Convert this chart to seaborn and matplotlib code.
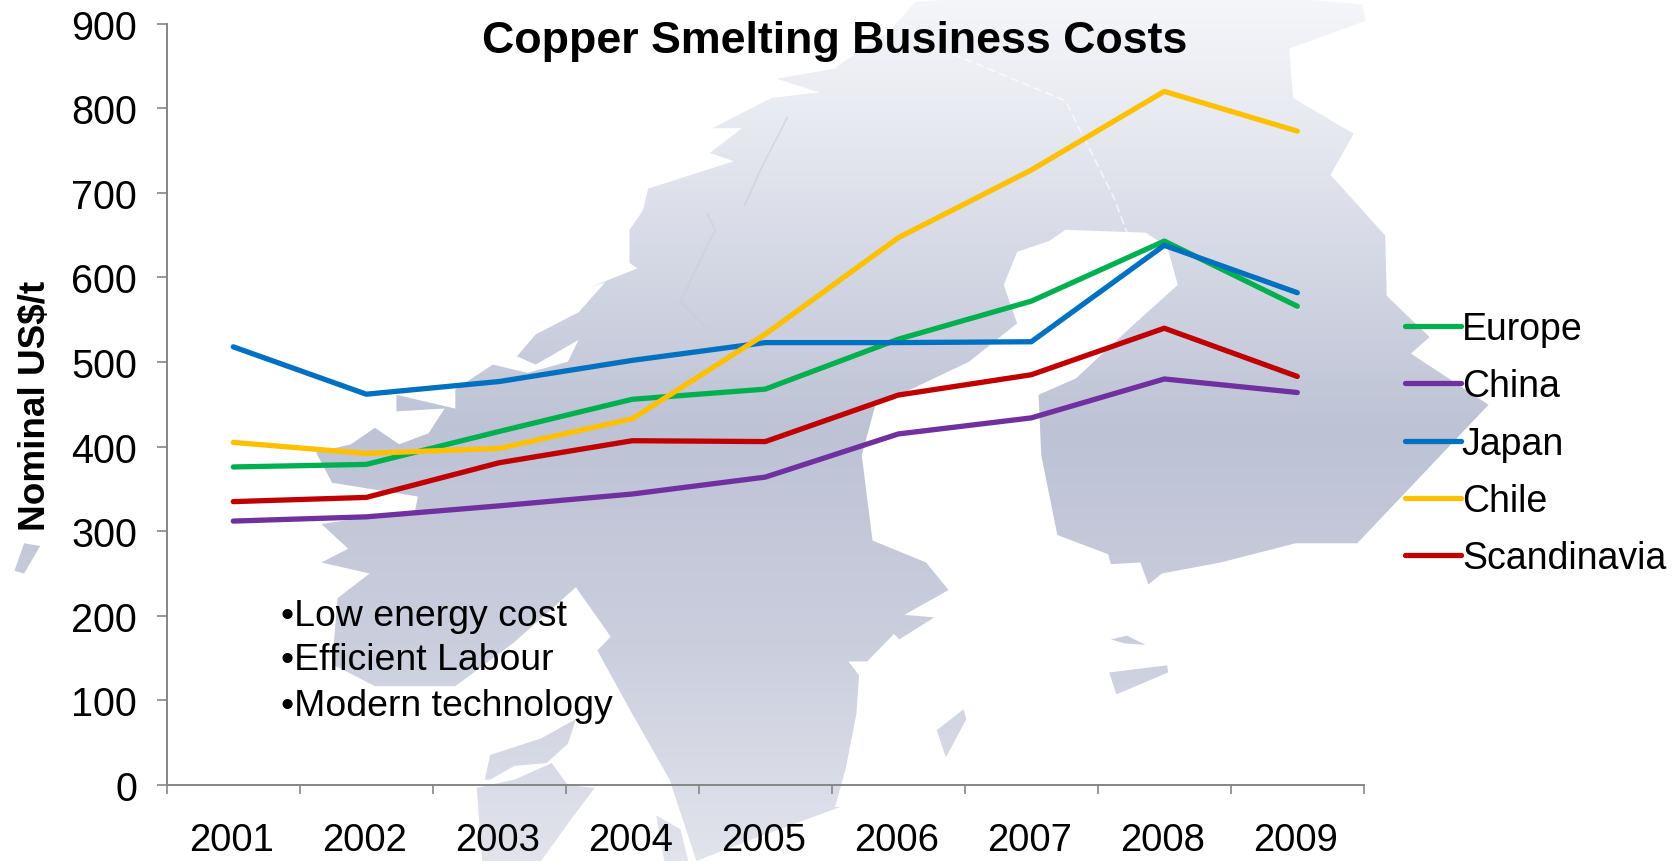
import numpy as np
import pandas as pd
import matplotlib
matplotlib.use("Agg")
import matplotlib.pyplot as plt
import seaborn as sns
from matplotlib.colors import LinearSegmentedColormap
from matplotlib.path import Path
from matplotlib.patches import PathPatch
from matplotlib.ticker import FixedLocator, NullFormatter
from matplotlib.transforms import ScaledTranslation

# values
years = ['2001', '2002', '2003', '2004', '2005', '2006', '2007', '2008', '2009']
europe = [376, 379, 418, 456, 468, 527, 572, 643, 566]
china = [312, 317, 330, 344, 364, 415, 434, 480, 464]
japan = [518, 462, 477, 502, 523, 523, 524, 638, 582]
chile = [405, 392, 398, 433, 533, 647, 727, 820, 773]
scandinavia = [335, 340, 381, 407, 406, 461, 485, 540, 483]

series_names = ['Europe', 'China', 'Japan', 'Chile', 'Scandinavia']
series_colors = ['#00B050', '#7030A0', '#0070C0', '#FFC000', '#C00000']
bullets = ['•Low energy cost', '•Efficient Labour', '•Modern technology']

# map outline behind the chart, traced in pixels of the two halves of the picture
west_half = [(1568, 125), (1450, 145), (1530, 170), (1440, 180), (1330, 235), (1385, 235), (1325, 280),
             (1370, 295), (1210, 345), (1200, 385), (1175, 420), (1175, 480), (1190, 490), (1100, 525),
             (1130, 515), (1080, 570), (1000, 610), (965, 650), (1000, 665), (1080, 620), (1060, 660),
             (985, 680), (920, 665), (850, 710), (850, 745), (740, 720), (740, 750), (830, 745),
             (800, 790), (745, 810), (700, 780), (655, 810), (590, 825), (620, 880), (780, 905),
             (775, 930), (600, 955), (650, 1000), (600, 1025), (690, 1045), (630, 1090), (620, 1210),
             (700, 1250), (850, 1250), (960, 1170), (1075, 1070), (1140, 1160), (1115, 1185),
             (1180, 1300), (1250, 1420), (1300, 1568), (1400, 1530), (1568, 1470)]
east_half = [(0, 1470), (20, 1400), (40, 1300), (45, 1230), (25, 1205), (60, 1205), (110, 1155), (120, 1165),
             (185, 1125), (130, 1120), (212, 1075), (170, 1025), (70, 985), (50, 830), (75, 740),
             (120, 720), (250, 660), (340, 590), (315, 520), (340, 460), (400, 440), (430, 420),
             (580, 425), (620, 450), (640, 520), (560, 590), (450, 690), (380, 720), (385, 830),
             (415, 975), (510, 1010), (515, 1028), (570, 1025), (585, 1065), (610, 1045), (720, 1025),
             (860, 990), (975, 990), (1220, 738), (1075, 645), (1110, 615), (1030, 540), (1027, 430),
             (925, 320), (968, 245), (855, 180), (848, 90), (990, 40), (985, 10), (870, 0), (230, 0),
             (150, 5), (100, 60), (0, 125)]
west_islands = [[(27, 1040), (45, 990), (75, 995), (45, 1045)],
                [(905, 1420), (915, 1375), (1010, 1345), (1075, 1310), (1060, 1355), (1020, 1390),
                 (960, 1395), (915, 1420)],
                [(890, 1435), (960, 1420), (1030, 1390), (1060, 1430), (1110, 1435), (1060, 1500),
                 (1010, 1568), (900, 1568)],
                [(1225, 1485), (1270, 1510), (1285, 1568), (1240, 1568)]]
east_islands = [[(240, 1292), (190, 1330), (207, 1380), (245, 1310)],
                [(515, 1165), (545, 1158), (580, 1175), (540, 1172)],
                [(512, 1225), (620, 1212), (622, 1225), (525, 1265)]]
# faint border lines on the map
west_borders = [[(1470, 215), (1420, 310), (1390, 375)],
                [(1320, 390), (1335, 420), (1270, 550), (1315, 595)]]
east_borders = [[(220, 100), (430, 185), (520, 360), (545, 425)]]


def to_pixels(points, offset):
    return [(offset + x / 1.8667, y / 1.819) for x, y in points]


def ring(points):
    return Path(points + [points[0]], closed=True)


rings = [ring(to_pixels(west_half, 0) + to_pixels(east_half, 835))]
rings += [ring(to_pixels(p, 0)) for p in west_islands]
rings += [ring(to_pixels(p, 835)) for p in east_islands]
map_path = Path.make_compound_path(*rings)

df = pd.DataFrame({'year': years, 'Europe': europe, 'China': china, 'Japan': japan,
                   'Chile': chile, 'Scandinavia': scandinavia})
df = df.melt(id_vars='year', var_name='region', value_name='cost')

sns.set_theme(style="white")
plt.rcParams['font.family'] = ['Liberation Sans', 'DejaVu Sans']

fig = plt.figure(figsize=(16.75, 8.62), dpi=100)

# map with vertical gradient
bg = fig.add_axes([0, 0, 1, 1], zorder=0)
bg.axis('off')
cmap = LinearSegmentedColormap.from_list('map', [(0, '#F5F6F9'), (0.16, '#E6E8F0'), (0.5, '#BDC2D5'),
                                                 (0.75, '#CBCEDD'), (1, '#E2E4EC')])
grad = np.linspace(0, 1, 256).reshape(-1, 1)
im = bg.imshow(grad, cmap=cmap, extent=(0, 1675, 862, 0), aspect='auto', vmin=0, vmax=1)
im.set_clip_path(PathPatch(map_path, transform=bg.transData))
for b in west_borders:
    xs, ys = zip(*to_pixels(b, 0))
    bg.plot(xs, ys, color='#C9CCDA', lw=1.2, alpha=0.6)
for b in east_borders:
    xs, ys = zip(*to_pixels(b, 835))
    bg.plot(xs, ys, color='white', lw=1, ls=(0, (6, 3)), alpha=0.8)
bg.set_xlim(0, 1675)
bg.set_ylim(862, 0)

# chart
ax = fig.add_axes([166.8 / 1675, 1 - 786 / 862, (1363.8 - 166.8) / 1675, (786 - 24.7) / 862], zorder=1)
ax.patch.set_alpha(0)
sns.lineplot(data=df, x='year', y='cost', hue='region', hue_order=series_names,
             palette=series_colors, linewidth=3.8, ax=ax, sort=False)
ax.set_xlim(-0.5, 8.5)
ax.set_ylim(0, 900)
ax.set_yticks(range(0, 1000, 100))
ax.xaxis.set_minor_locator(FixedLocator(np.arange(-0.5, 9)))
ax.xaxis.set_minor_formatter(NullFormatter())
ax.tick_params(axis='x', which='major', length=0, labelsize=27.5, pad=27, labelcolor='black')
ax.tick_params(axis='x', which='minor', bottom=True, length=6.5, width=1.2, color='#868686')
ax.tick_params(axis='y', which='major', left=True, length=7.5, width=1.2, color='#868686',
               labelsize=28.5, pad=14, labelcolor='black')
for side in ['top', 'right']:
    ax.spines[side].set_visible(False)
for side in ['left', 'bottom']:
    ax.spines[side].set_color('#868686')
    ax.spines[side].set_linewidth(1.4)
ax.set_xlabel('')
ax.set_ylabel('')

# year labels sit a little left of the category centres
shift = ScaledTranslation(-1.2 / 72, 0, fig.dpi_scale_trans)
for label in ax.get_xticklabels():
    label.set_transform(label.get_transform() + shift)

fig.text(36 / 1675, 1 - 406 / 862, 'Nominal US$/t', rotation=90, fontsize=26.6, fontweight='bold',
         color='black', ha='center', va='center')
fig.text(834.5 / 1675, 1 - 42 / 862, 'Copper Smelting Business Costs', fontsize=32.2, fontweight='bold',
         color='black', ha='center', va='center')

for i, line in enumerate(bullets):
    fig.text(281 / 1675, 1 - (616 + i * 45) / 862, line, fontsize=26.9, color='black', va='center')

handles, labels = ax.get_legend_handles_labels()
ax.get_legend().remove()
leg = fig.legend(handles, labels, loc='upper left', bbox_to_anchor=(1404.5 / 1675, 1 - 312 / 862),
                 frameon=False, fontsize=27, handlelength=1.5, handletextpad=0.03, labelspacing=0.57,
                 borderpad=0, borderaxespad=0, labelcolor='black')
for h in leg.get_lines():
    h.set_linewidth(3.8)

fig.savefig('out.png', dpi=100)
